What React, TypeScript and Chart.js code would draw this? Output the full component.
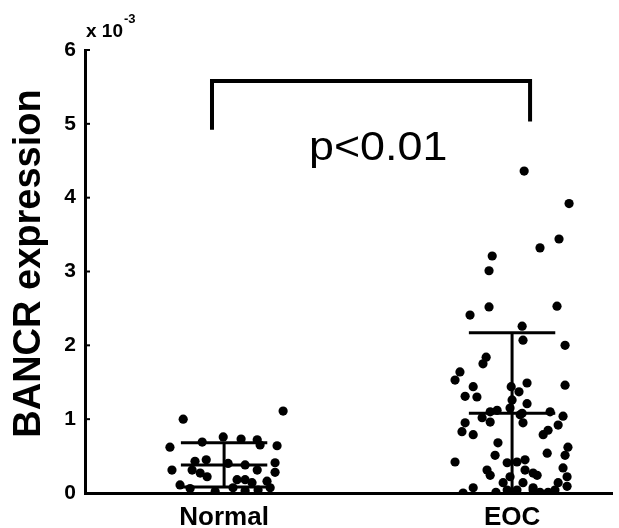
import { useEffect, useRef } from "react";
import { Chart, registerables } from "chart.js";

Chart.register(...registerables);

const categories = ["Normal", "EOC"];

const normalOffsets = [-0.142, 0.205, -0.188, -0.076, -0.003, 0.059, 0.115, 0.125, 0.184, -0.181, -0.101, -0.062, -0.111, -0.083, -0.059, 0.073, 0.115, 0.177, 0.177, -0.153, 0.045, 0.073, 0.097, 0.149, 0.031, 0.16, 0.118, -0.118, -0.031, 0.073, 0.014];
const normalValues = [1.0, 1.11, 0.62, 0.69, 0.76, 0.73, 0.72, 0.65, 0.64, 0.31, 0.43, 0.45, 0.31, 0.27, 0.22, 0.38, 0.31, 0.41, 0.28, 0.11, 0.18, 0.18, 0.14, 0.16, 0.07, 0.07, 0.04, 0.06, 0.02, 0.03, 0.4];

const eocOffsets = [0.042, 0.198, 0.163, 0.097, -0.069, -0.08, -0.08, -0.146, 0.156, 0.035, 0.038, 0.184, -0.09, -0.101, -0.181, -0.198, -0.135, -0.163, -0.122, -0.003, 0.024, 0.052, 0.0, -0.007, -0.052, 0.184, 0.052, 0.035, 0.132, 0.177, -0.163, -0.174, -0.135, -0.104, -0.076, -0.049, -0.059, -0.198, -0.087, -0.076, -0.017, 0.017, 0.045, 0.073, -0.007, -0.031, 0.038, -0.017, 0.017, 0.073, 0.125, -0.17, -0.135, 0.038, 0.108, 0.125, 0.16, 0.194, 0.184, 0.122, 0.177, 0.191, 0.16, 0.191, 0.073, 0.028, -0.076, 0.087, 0.045, -0.056, 0.097, 0.149];
const eocValues = [4.36, 3.92, 3.44, 3.32, 3.21, 3.01, 2.52, 2.41, 2.53, 2.26, 2.07, 2.0, 1.84, 1.75, 1.64, 1.53, 1.44, 1.31, 1.3, 1.44, 1.37, 1.49, 1.26, 1.15, 1.12, 1.46, 1.21, 1.08, 1.1, 1.04, 0.95, 0.83, 0.79, 1.02, 0.96, 0.68, 0.51, 0.42, 0.31, 0.24, 0.41, 0.42, 0.31, 0.27, 0.22, 0.14, 0.14, 0.04, 0.04, 0.04, 0.01, 0.0, 0.07, 0.95, 0.79, 0.85, 0.92, 0.62, 0.51, 0.54, 0.34, 0.22, 0.14, 0.09, 0.07, 1.06, 1.1, 0.24, 0.45, 0.01, 0.01, 0.04];

const groupMeans = [0.38, 1.08];
const groupSDs = [0.3, 1.09];

const yTicks = [0, 1, 2, 3, 4, 5, 6];
const yTitle = "BANCR expression";
const exponentBase = "x 10";
const exponentPower = "-3";
const pLabel = "p<0.01";

const bracketXs = [0.958, 2.0625];
const bracketTop = 5.58;
const bracketLegEnds = [4.92, 5.03];
const pLabelPos = [1.535, 4.66];

const FONT = "'Liberation Sans', Arial, sans-serif";

const overlay = {
  id: "overlay",
  afterDatasetsDraw(chart: any) {
    const { ctx, scales } = chart;
    const x = scales.x;
    const y = scales.y;
    ctx.save();
    ctx.strokeStyle = "#000";
    ctx.fillStyle = "#000";
    ctx.lineWidth = 3;
    ctx.lineCap = "butt";

    // error bars
    groupMeans.forEach((m, i) => {
      const c = i + 1;
      const hw = 0.15;
      const xl = x.getPixelForValue(c - hw);
      const xr = x.getPixelForValue(c + hw);
      const xc = x.getPixelForValue(c);
      const lowV = m - groupSDs[i];
      const hiV = m + groupSDs[i];
      const lines = [m, hiV];
      if (lowV > 0) lines.push(lowV);
      lines.forEach((v) => {
        const py = y.getPixelForValue(v);
        ctx.beginPath();
        ctx.moveTo(xl, py);
        ctx.lineTo(xr, py);
        ctx.stroke();
      });
      ctx.beginPath();
      ctx.moveTo(xc, y.getPixelForValue(Math.max(0, lowV)));
      ctx.lineTo(xc, y.getPixelForValue(hiV));
      ctx.stroke();
    });

    // bracket
    ctx.lineWidth = 4;
    ctx.beginPath();
    ctx.moveTo(x.getPixelForValue(bracketXs[0]), y.getPixelForValue(bracketLegEnds[0]));
    ctx.lineTo(x.getPixelForValue(bracketXs[0]), y.getPixelForValue(bracketTop));
    ctx.lineTo(x.getPixelForValue(bracketXs[1]), y.getPixelForValue(bracketTop));
    ctx.lineTo(x.getPixelForValue(bracketXs[1]), y.getPixelForValue(bracketLegEnds[1]));
    ctx.stroke();

    // p label
    ctx.save();
    ctx.translate(x.getPixelForValue(pLabelPos[0]), y.getPixelForValue(pLabelPos[1]));
    ctx.scale(1.12, 1);
    ctx.font = `40px ${FONT}`;
    ctx.textAlign = "center";
    ctx.textBaseline = "middle";
    ctx.fillText(pLabel, 0, 0);
    ctx.restore();

    // y tick nubs
    ctx.lineWidth = 2;
    const ax = chart.chartArea.left;
    yTicks.forEach((t) => {
      const py = y.getPixelForValue(t);
      ctx.beginPath();
      ctx.moveTo(ax, py);
      ctx.lineTo(ax + 5, py);
      ctx.stroke();
    });

    // exponent
    ctx.font = `bold 19px ${FONT}`;
    ctx.textAlign = "left";
    ctx.textBaseline = "alphabetic";
    ctx.fillText(exponentBase, ax + 1, y.getPixelForValue(6) - 13);
    const w = ctx.measureText(exponentBase).width;
    ctx.font = `bold 13px ${FONT}`;
    ctx.fillText(exponentPower, ax + 2 + w, y.getPixelForValue(6) - 27);

    // y title
    ctx.save();
    ctx.translate(30, (chart.chartArea.top + chart.chartArea.bottom) / 2 - 8);
    ctx.rotate(-Math.PI / 2);
    ctx.font = `bold 38px ${FONT}`;
    ctx.textAlign = "center";
    ctx.textBaseline = "middle";
    ctx.fillText(yTitle, 0, 0);
    ctx.restore();

    ctx.restore();
  },
};

export default function App() {
  const ref = useRef<HTMLCanvasElement | null>(null);
  useEffect(() => {
    if (!ref.current) return;
    const points = [
      ...normalOffsets.map((o, i) => ({ x: 1 + o, y: normalValues[i] })),
      ...eocOffsets.map((o, i) => ({ x: 2 + o, y: eocValues[i] })),
    ];
    const chart = new Chart(ref.current, {
      type: "scatter",
      data: {
        datasets: [
          {
            data: points,
            backgroundColor: "#000",
            borderWidth: 0,
            pointRadius: 4.6,
            pointHoverRadius: 4.6,
          },
        ],
      },
      options: {
        animation: false,
        responsive: false,
        maintainAspectRatio: false,
        events: [],
        layout: { padding: { top: 50, right: 7, left: 0, bottom: 0 } },
        plugins: { legend: { display: false }, tooltip: { enabled: false } },
        scales: {
          x: {
            type: "linear",
            min: 0.517,
            max: 2.347,
            grid: { display: false, drawTicks: false },
            border: { display: true, color: "#000", width: 3 },
            afterBuildTicks: (s: any) => {
              s.ticks = categories.map((_, i) => ({ value: i + 1 }));
            },
            afterFit: (s: any) => {
              s.height = 35;
            },
            ticks: {
              color: "#000",
              padding: 9,
              font: { family: FONT, size: 26, weight: "bold" },
              callback: (v: any) => categories[Math.round(v) - 1] ?? "",
            },
          },
          y: {
            type: "linear",
            min: 0,
            max: 6,
            grid: { display: false, drawTicks: false },
            border: { display: true, color: "#000", width: 3 },
            afterBuildTicks: (s: any) => {
              s.ticks = yTicks.map((v) => ({ value: v }));
            },
            afterFit: (s: any) => {
              s.width = 85;
            },
            ticks: {
              color: "#000",
              padding: 9,
              font: { family: FONT, size: 21, weight: "bold" },
              callback: (v: any) => String(v),
            },
          },
        },
      },
      plugins: [overlay],
    } as any);
    return () => chart.destroy();
  }, []);
  return (
    <div style={{ position: "absolute", left: 0, top: 0, width: 619, height: 528, background: "#fff" }}>
      <canvas ref={ref} width={619} height={528} style={{ display: "block", width: 619, height: 528 }} />
    </div>
  );
}
